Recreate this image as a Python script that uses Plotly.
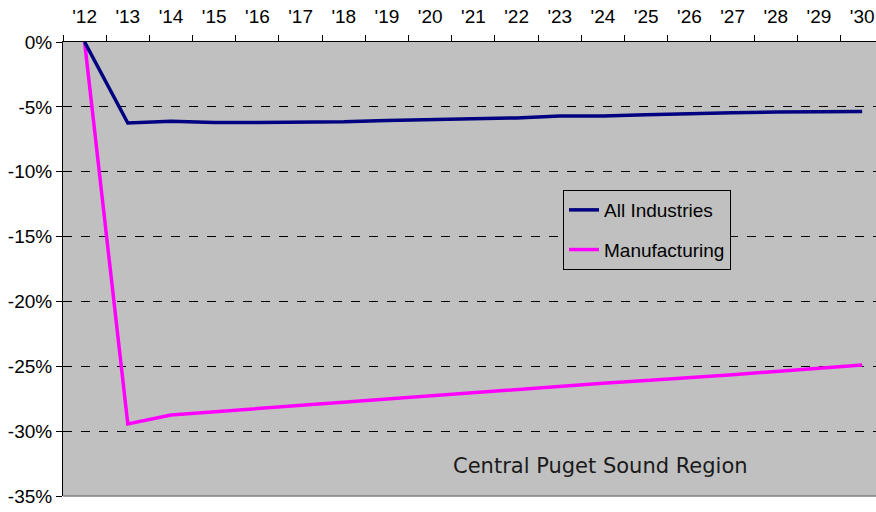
import plotly.graph_objects as go

# Year labels along the top axis
years = ["'12", "'13", "'14", "'15", "'16", "'17", "'18", "'19", "'20", "'21",
         "'22", "'23", "'24", "'25", "'26", "'27", "'28", "'29", "'30"]

# Percent change relative to 2012
all_industries = [0.0, -6.25, -6.1, -6.2, -6.2, -6.2, -6.15, -6.05, -6.0, -5.95,
                  -5.85, -5.7, -5.7, -5.6, -5.5, -5.45, -5.4, -5.35, -5.35]
manufacturing = [0.0, -29.45, -28.75, -28.5, -28.25, -28.0, -27.75, -27.5, -27.25, -27.0,
                 -26.8, -26.55, -26.3, -26.1, -25.9, -25.65, -25.4, -25.15, -24.9]

y_ticks = [0, -5, -10, -15, -20, -25, -30, -35]
y_ticktext = [f"{v}%" for v in y_ticks]

BG = "#C0C0C0"
FONT = "Liberation Sans, Arial, sans-serif"

fig = go.Figure()
fig.add_trace(go.Scatter(
    x=years, y=manufacturing, mode="lines", name="Manufacturing",
    line=dict(color="#FF00FF", width=3.5), legendrank=2, legendgroup="m",
))
fig.add_trace(go.Scatter(
    x=years, y=all_industries, mode="lines", name="All Industries",
    line=dict(color="#000080", width=3.5), legendrank=1, legendgroup="a",
))

fig.update_layout(
    width=876, height=512,
    margin=dict(l=63, r=0, t=42, b=16),
    paper_bgcolor="white",
    plot_bgcolor=BG,
    font=dict(family=FONT, size=19, color="black"),
    showlegend=True,
    legend=dict(
        x=0.615, y=0.674, xanchor="left", yanchor="top",
        bgcolor=BG, bordercolor="black", borderwidth=1,
        font=dict(family=FONT, size=19, color="black"),
        tracegroupgap=12, itemwidth=30,
    ),
    xaxis=dict(
        type="category", side="top",
        range=[-0.5, 18.32],
        showline=True, linecolor="black", linewidth=1,
        ticks="outside", ticklen=6, tickcolor="black",
        tickson="boundaries", showgrid=False, zeroline=False,
        tickfont=dict(family=FONT, size=19),
        ticklabelstandoff=10,
    ),
    yaxis=dict(
        range=[-35, 0],
        tickvals=y_ticks, ticktext=y_ticktext,
        showline=True, linecolor="black", linewidth=1,
        ticks="outside", ticklen=6, tickcolor="black",
        showgrid=True, gridcolor="black", gridwidth=1, griddash="dash",
        zeroline=False,
        tickfont=dict(family=FONT, size=19),
    ),
    shapes=[dict(type="line", xref="paper", yref="paper", x0=0, x1=1, y0=0, y1=0,
                 line=dict(color="#808080", width=1.5))],
    annotations=[dict(
        text="Central Puget Sound Region", xref="paper", yref="paper",
        x=0.661, y=0.066, xanchor="center", yanchor="middle", showarrow=False,
        font=dict(family="DejaVu Sans, sans-serif", size=21, color="#1a1a1a"),
    )],
)

fig.write_html("out.html")
